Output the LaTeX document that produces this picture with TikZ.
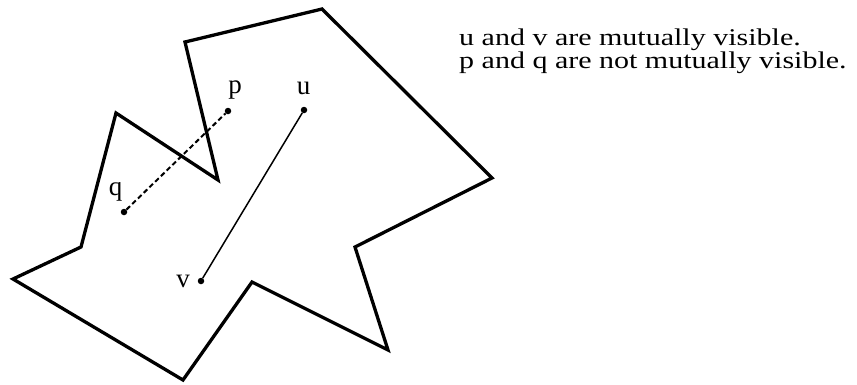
\documentclass[tikz,border=0pt]{standalone}
\usepackage{fontspec}
\setmainfont{Liberation Serif}
\newfontfamily\ancha[FakeStretch=1.25]{Liberation Serif}
\usepackage{tikz}
\usetikzlibrary{positioning}
\tikzset{
  punto/.style={circle,fill=black,inner sep=0pt,minimum size=6.5pt},
  etiq/.style={font=\fontsize{27}{27}\selectfont,inner sep=0pt},
  texto/.style={font=\ancha\fontsize{24}{20}\selectfont,inner sep=0pt,anchor=base west}
}
\begin{document}
\begin{tikzpicture}[x=1pt,y=-1pt]
        \useasboundingbox (0,0) rectangle (857,384);
        % poligono
        \draw[line width=3.3pt,line join=miter] (185,42) -- (322,9) -- (492,178) -- (355,247) -- (388,350)
          -- (252,282) -- (183,380) -- (13,279) -- (81,247) -- (116,113) -- (218,180) -- cycle;
        % puntos
        \foreach \n/\x/\y in {p/228/111, u/304/110, q/124/212, v/201/281}
          \node[punto] (\n) at (\x,\y) {};
        \node[etiq] (lp) at (235,90) {p};
        \node[etiq] (lu) at (303.5,88) {u};
        \node[etiq] (lq) at (115.5,192) {q};
        \node[etiq] (lv) at (183,281.5) {v};
        \draw[line width=1.5pt] (u) -- (v);
        \draw[line width=2pt,dash pattern=on 5pt off 3pt] (q) -- (p);
        % leyenda
        \node[texto] (t1) at (459,45) {u and v are mutually visible.};
        \node[texto] (t2) at (459,68) {p and q are not mutually visible.};
      \end{tikzpicture}
\end{document}
